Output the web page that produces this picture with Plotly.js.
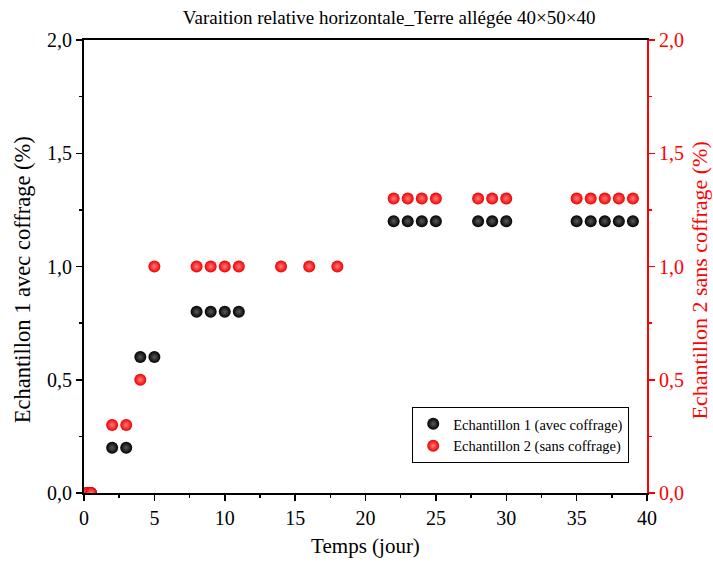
<!DOCTYPE html>
<html>
<head>
<meta charset="utf-8">
<script src="https://cdn.plot.ly/plotly-3.0.1.min.js"></script>
<style>html,body{margin:0;padding:0;background:#fff;}#chart{width:713px;height:567px;}</style>
</head>
<body>
<div id="chart"></div>
<script>
const titleText = "Varaition relative horizontale_Terre allégée 40×50×40";
const xTitle = "Temps (jour)";
const y1Title = "Echantillon 1 avec coffrage (%)";
const y2Title = "Echantillon 2 sans coffrage (%)";
const name1 = "Echantillon 1 (avec coffrage)";
const name2 = "Echantillon 2 (sans coffrage)";

const days1 = [0.2, 0.5, 2, 3, 4, 5, 8, 9, 10, 11, 22, 23, 24, 25, 28, 29, 30, 35, 36, 37, 38, 39];
const vals1 = [0, 0, 0.2, 0.2, 0.6, 0.6, 0.8, 0.8, 0.8, 0.8, 1.2, 1.2, 1.2, 1.2, 1.2, 1.2, 1.2, 1.2, 1.2, 1.2, 1.2, 1.2];

const days2 = [0.2, 0.5, 2, 3, 4, 5, 8, 9, 10, 11, 14, 16, 18, 22, 23, 24, 25, 28, 29, 30, 35, 36, 37, 38, 39];
const vals2 = [0, 0, 0.3, 0.3, 0.5, 1.0, 1.0, 1.0, 1.0, 1.0, 1.0, 1.0, 1.0, 1.3, 1.3, 1.3, 1.3, 1.3, 1.3, 1.3, 1.3, 1.3, 1.3, 1.3, 1.3];

const xTicks = [0, 5, 10, 15, 20, 25, 30, 35, 40];
const yTicks = [0, 0.5, 1.0, 1.5, 2.0];

const font = "Liberation Serif, Times New Roman, serif";

const traces = [
  {
    x: days1, y: vals1, name: name1, type: 'scatter', mode: 'markers',
    xaxis: 'x', yaxis: 'y',
    marker: {color: '#000000', size: 12, line: {width: 0}, gradient: {type: 'radial', color: '#5a5a5a'}}
  },
  {
    x: days2, y: vals2, name: name2, type: 'scatter', mode: 'markers',
    xaxis: 'x', yaxis: 'y2',
    marker: {color: '#ee0000', size: 12, line: {width: 0}, gradient: {type: 'radial', color: '#ff7a7a'}}
  }
];

const layout = {
  width: 713, height: 567,
  margin: {l: 84, r: 66, t: 40, b: 74},
  paper_bgcolor: '#ffffff', plot_bgcolor: '#ffffff',
  separators: ', ',
  font: {family: font, size: 20, color: '#000'},
  title: {text: titleText, x: 0.542, xref: 'paper', xanchor: 'center', y: 0.97, yref: 'container', yanchor: 'middle', font: {family: font, size: 19, color: '#000'}},
  showlegend: true,
  legend: {
    x: 0.583, y: 0.19, xanchor: 'left', yanchor: 'top',
    bgcolor: '#ffffff', bordercolor: '#000000', borderwidth: 1,
    font: {family: font, size: 14.5, color: '#000'},
    itemsizing: 'constant', tracegroupgap: 0
  },
  xaxis: {
    range: [0, 40], tickvals: xTicks, ticktext: xTicks.map(String),
    showgrid: false, zeroline: false,
    showline: true, linecolor: '#000', linewidth: 2, mirror: true,
    ticks: 'outside', ticklen: 6, tickwidth: 1.5, tickcolor: '#000',
    minor: {ticks: 'outside', dtick: 2.5, tick0: 0, ticklen: 3, tickwidth: 1.5, tickcolor: '#000', showgrid: false},
    tickfont: {family: font, size: 20, color: '#000'},
    title: {text: xTitle, font: {family: font, size: 21, color: '#000'}, standoff: 10}
  },
  yaxis: {
    range: [0, 2], tickvals: yTicks, tickformat: '.1f',
    showgrid: false, zeroline: false,
    showline: true, linecolor: '#000', linewidth: 2,
    ticks: 'outside', ticklen: 6, tickwidth: 1.5, tickcolor: '#000',
    minor: {ticks: 'outside', dtick: 0.25, tick0: 0, ticklen: 3, tickwidth: 1.5, tickcolor: '#000', showgrid: false},
    tickfont: {family: font, size: 20, color: '#000'}
  },
  yaxis2: {
    range: [0, 2], tickvals: yTicks, tickformat: '.1f',
    overlaying: 'y', side: 'right', anchor: 'x',
    showgrid: false, zeroline: false,
    showline: true, linecolor: '#ff0000', linewidth: 2,
    ticks: 'outside', ticklen: 6, tickwidth: 1.5, tickcolor: '#ff0000',
    minor: {ticks: 'outside', dtick: 0.25, tick0: 0, ticklen: 3, tickwidth: 1.5, tickcolor: '#ff0000', showgrid: false},
    tickfont: {family: font, size: 20, color: '#ff0000'}
  },
  annotations: [
    {text: y1Title, xref: 'paper', yref: 'paper', x: -0.110, y: 0.47, xanchor: 'center', yanchor: 'middle',
     textangle: -90, showarrow: false, font: {family: font, size: 22.5, color: '#000'}},
    {text: y2Title, xref: 'paper', yref: 'paper', x: 1.093, y: 0.47, xanchor: 'center', yanchor: 'middle',
     textangle: -90, showarrow: false, font: {family: font, size: 22, color: '#ff0000'}}
  ]
};

Plotly.newPlot('chart', traces, layout, {displayModeBar: false, staticPlot: true});
</script>
</body>
</html>
